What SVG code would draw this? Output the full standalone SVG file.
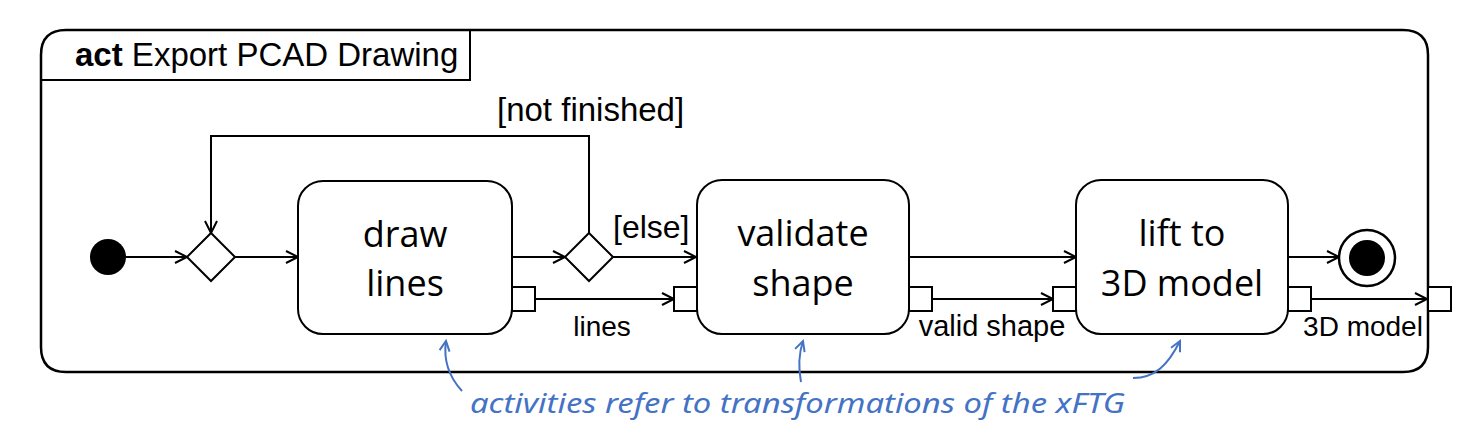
<svg xmlns="http://www.w3.org/2000/svg" width="1475" height="435" viewBox="0 0 1475 435">
<style>
.ln{fill:none;stroke:#000;stroke-width:2}
.box{fill:#fff;stroke:#000;stroke-width:2}
.lbl{font-family:"Liberation Sans",Arial,sans-serif;fill:#000}
.nt{font-family:"Open Sans","Noto Sans",sans-serif;font-size:36px;fill:#000;text-anchor:middle}
.note{fill:none;stroke:#4472C4;stroke-width:2}
</style>
<defs>
<marker id="arr" markerUnits="userSpaceOnUse" markerWidth="16" markerHeight="16" refX="13" refY="7" orient="auto" viewBox="0 0 16 14">
<path d="M1,1 L13,7 L1,13" fill="none" stroke="#000" stroke-width="2"/>
</marker>
<marker id="barr" markerUnits="userSpaceOnUse" markerWidth="14" markerHeight="14" refX="11" refY="6" orient="auto" viewBox="0 0 14 12">
<path d="M1,1 L11,6 L1,11" fill="none" stroke="#4472C4" stroke-width="2"/>
</marker>
</defs>
<g id="frame">
<path d="M41,55 Q41,30 66,30 L1403,30 Q1428,30 1428,55 L1428,347 Q1428,372 1403,372 L66,372 Q41,372 41,347 Z" fill="#fff" stroke="#000" stroke-width="2.5"/>
<path d="M41,80 L470,80 L470,30" class="ln"/>
<text x="75" y="66" class="lbl" font-size="33"><tspan font-weight="bold">act</tspan> Export PCAD Drawing</text>
</g>
<g id="connectors">
<line x1="126" y1="257" x2="187" y2="257" class="ln" marker-end="url(#arr)"/>
<line x1="235" y1="257" x2="298" y2="257" class="ln" marker-end="url(#arr)"/>
<line x1="512" y1="257" x2="565" y2="257" class="ln" marker-end="url(#arr)"/>
<line x1="613" y1="257" x2="696" y2="257" class="ln" marker-end="url(#arr)"/>
<path d="M589,233 L589,136 L211,136 L211,233" class="ln" marker-end="url(#arr)"/>
<line x1="909" y1="257" x2="1076" y2="257" class="ln" marker-end="url(#arr)"/>
<line x1="1288" y1="257" x2="1339" y2="257" class="ln" marker-end="url(#arr)"/>
<line x1="535" y1="299" x2="674" y2="299" class="ln" marker-end="url(#arr)"/>
<line x1="932" y1="299" x2="1053" y2="299" class="ln" marker-end="url(#arr)"/>
<line x1="1311" y1="299" x2="1427" y2="299" class="ln" marker-end="url(#arr)"/>
<text x="497" y="121" class="lbl" font-size="33">[not finished]</text>
<text x="613" y="238" class="lbl" font-size="32">[else]</text>
<text x="602" y="336" class="lbl" font-size="28" text-anchor="middle">lines</text>
<text x="992" y="336" class="lbl" font-size="29" text-anchor="middle">valid shape</text>
<text x="1363" y="336" class="lbl" font-size="28" text-anchor="middle">3D model</text>
</g>
<g id="initial"><circle cx="108" cy="257" r="18" fill="#000"/></g>
<g id="merge"><path d="M211,233 L235,257 L211,281 L187,257 Z" class="box"/></g>
<g id="decision"><path d="M589,233 L613,257 L589,281 L565,257 Z" class="box"/></g>
<g id="draw-lines">
<rect x="298" y="181" width="214" height="153" rx="25" class="box"/>
<rect x="512" y="287" width="23" height="24" class="box"/>
<text class="nt" x="405" y="247">draw</text>
<text class="nt" x="405" y="296">lines</text>
</g>
<g id="validate-shape">
<rect x="674" y="287" width="23" height="24" class="box"/>
<rect x="697" y="180" width="212" height="154" rx="25" class="box"/>
<rect x="909" y="287" width="23" height="24" class="box"/>
<text class="nt" x="803" y="246">validate</text>
<text class="nt" x="803" y="296">shape</text>
</g>
<g id="lift">
<rect x="1053" y="287" width="23" height="24" class="box"/>
<rect x="1076" y="180" width="212" height="154" rx="25" class="box"/>
<rect x="1288" y="287" width="23" height="24" class="box"/>
<text class="nt" x="1182" y="246">lift to</text>
<text class="nt" x="1182" y="296">3D model</text>
</g>
<g id="final">
<circle cx="1367" cy="258" r="28" fill="#fff" stroke="#000" stroke-width="2.5"/>
<circle cx="1367" cy="258" r="18" fill="#000"/>
</g>
<g id="out-pin"><rect x="1428" y="287" width="23" height="24" class="box"/></g>
<g id="note">
<path d="M462,391 C450,378 443,362 446,341" class="note" marker-end="url(#barr)"/>
<path d="M801,382 C798,366 799,353 803,341" class="note" marker-end="url(#barr)"/>
<path d="M1133,378 C1155,378 1168,365 1180,341" class="note" marker-end="url(#barr)"/>
<text x="470" y="413" font-family="'Noto Sans',sans-serif" font-style="italic" font-size="27" fill="#4472C4" textLength="655" lengthAdjust="spacingAndGlyphs">activities refer to transformations of the xFTG</text>
</g>
</svg>
